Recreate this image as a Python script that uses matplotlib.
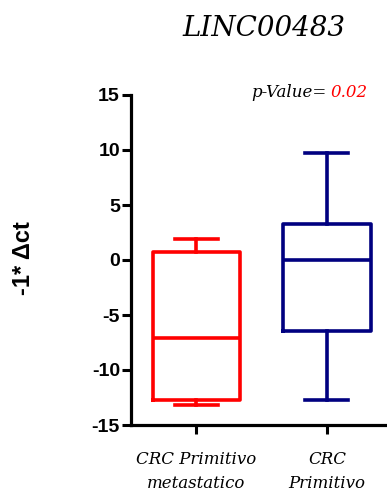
import matplotlib
matplotlib.use("Agg")
import matplotlib.pyplot as plt

# box summaries for each group: whisker low, q1, median, q3, whisker high
groups = ["CRC Primitivo\nmetastatico", "CRC\nPrimitivo"]
whislo = [-13.2, -12.7]
q1 = [-12.7, -6.5]
med = [-7.1, 0.0]
q3 = [0.7, 3.3]
whishi = [1.9, 9.7]
colors = ["#ff0000", "#000080"]

yticks = [-15, -10, -5, 0, 5, 10, 15]
title = "LINC00483"
p_value = "0.02"

fig = plt.figure(figsize=(3.87, 4.94), dpi=100)
ax = fig.add_axes([131 / 387, 69 / 494, 256 / 387, 330 / 494])

stats = []
for i in range(len(groups)):
    stats.append(dict(whislo=whislo[i], q1=q1[i], med=med[i], q3=q3[i],
                      whishi=whishi[i], fliers=[], label=groups[i]))

for i, s in enumerate(stats):
    c = colors[i]
    lw = 2.6
    ax.bxp([s], positions=[i + 1], widths=0.67, capwidths=0.33,
           showfliers=False,
           boxprops=dict(color=c, linewidth=lw, solid_joinstyle="round"),
           medianprops=dict(color=c, linewidth=lw),
           whiskerprops=dict(color=c, linewidth=lw),
           capprops=dict(color=c, linewidth=lw))

ax.set_xlim(0.5, 2.46)
ax.set_ylim(-15, 15)
ax.set_yticks(yticks)
ax.set_yticklabels([str(t) for t in yticks], fontsize=14, fontweight="bold",
                   family="Liberation Sans")
ax.set_xticks([1, 2])
ax.set_xticklabels(groups, fontsize=12, style="italic", family="DejaVu Serif",
                   linespacing=1.6)

for side in ["top", "right"]:
    ax.spines[side].set_visible(False)
for side in ["left", "bottom"]:
    ax.spines[side].set_linewidth(2.3)
ax.tick_params(axis="both", width=2.2, length=6.5)
ax.tick_params(axis="y", pad=1.5)
ax.tick_params(axis="x", pad=12)

fig.text(24 / 387, 1 - 258 / 494, "-1* \u0394ct", fontsize=17,
         fontweight="bold", family="Liberation Sans", rotation=90,
         ha="center", va="center")

fig.text(0.681, 0.943, title, fontsize=20, style="italic",
         family="DejaVu Serif", ha="center", va="center")
ax.text(2.0, 14.8, "p-Value=", fontsize=12, style="italic",
        family="DejaVu Serif", ha="right", va="baseline")
ax.text(2.03, 14.8, p_value, fontsize=12, style="italic", color="#ff0000",
        family="DejaVu Serif", ha="left", va="baseline")

fig.savefig("out.png", dpi=100)
